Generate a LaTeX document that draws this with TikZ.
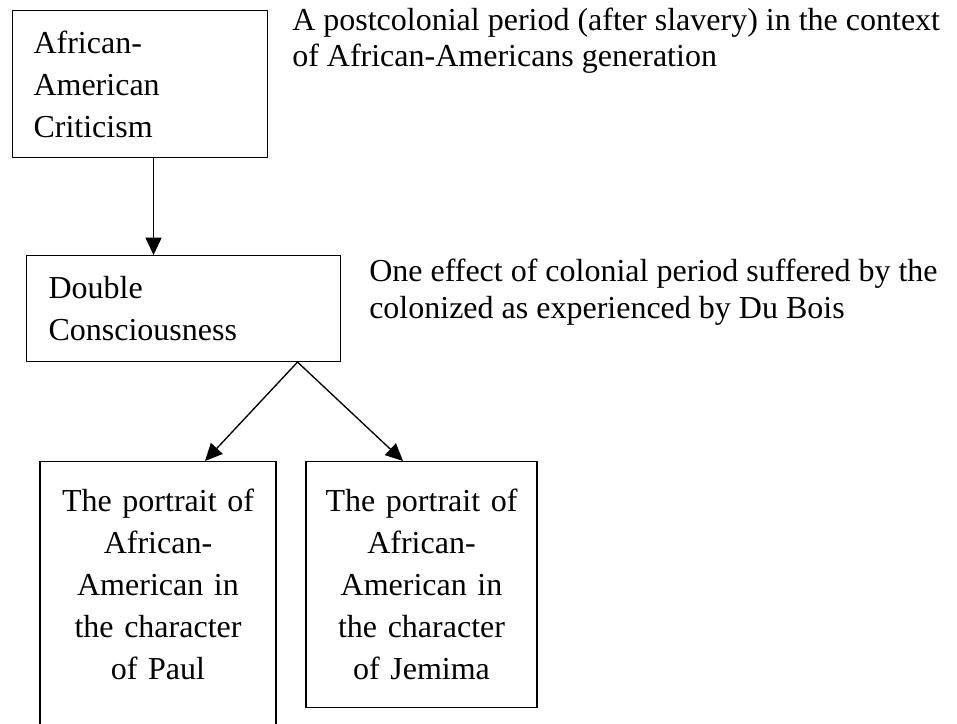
\documentclass[tikz,border=0pt]{standalone}
\usepackage{fontspec}
\setmainfont{Liberation Serif}
\usetikzlibrary{arrows.meta}

\tikzset{
  boite/.style={draw, line width=0.8pt, inner ysep=0pt,
    font=\fontsize{24}{31.5}\selectfont},
  note/.style={anchor=base west, inner sep=0pt, align=left,
    font=\fontsize{24}{27.75}\selectfont},
  fleche/.style={-{Triangle[length=13pt, width=12pt]}, line width=1pt}
}

\begin{document}
\begin{tikzpicture}[x=0.75pt, y=-0.75pt]
\useasboundingbox (0,0) rectangle (957,724);
\clip (0,0) rectangle (957,724);

% Critique
\node[boite, anchor=north west, inner xsep=15.75pt, text width=159.75pt,
  minimum height=110.25pt, align=left] (critique) at (12,10)
  {African-\\American\\Criticism};

% Double conscience
\node[boite, anchor=north west, inner xsep=16.5pt, text width=202.5pt,
  minimum height=79.5pt, align=left] (double) at (26,255)
  {Double\\Consciousness};

% Portraits
\node[boite, anchor=north, inner xsep=9pt, text width=159pt,
  minimum height=216pt, align=center] (paul) at (158,461)
  {The portrait of\\African-\\American in\\the character\\of Paul\\~};
\node[boite, anchor=north, inner xsep=9pt, text width=155.25pt,
  minimum height=184.5pt, align=center] (jemima) at (421.5,461)
  {The portrait of\\African-\\American in\\the character\\of Jemima};

% Notes
\node[note] (contexte) at (292,67)
  {A postcolonial period (after slavery) in the context\\
   of African-Americans generation};
\node[note] (effet) at (369,318)
  {One effect of colonial period suffered by the\\
   colonized as experienced by Du Bois};

% Fleches
\coordinate (depart) at ([xshift=85.5pt]double.south);
\draw[fleche] ([xshift=10.125pt]critique.south) -- ([xshift=10.125pt]critique.south |- double.north);
\draw[fleche] (depart) -- ([xshift=35.25pt]paul.north);
\draw[fleche] (depart) -- ([xshift=-13.875pt]jemima.north);

\end{tikzpicture}
\end{document}
